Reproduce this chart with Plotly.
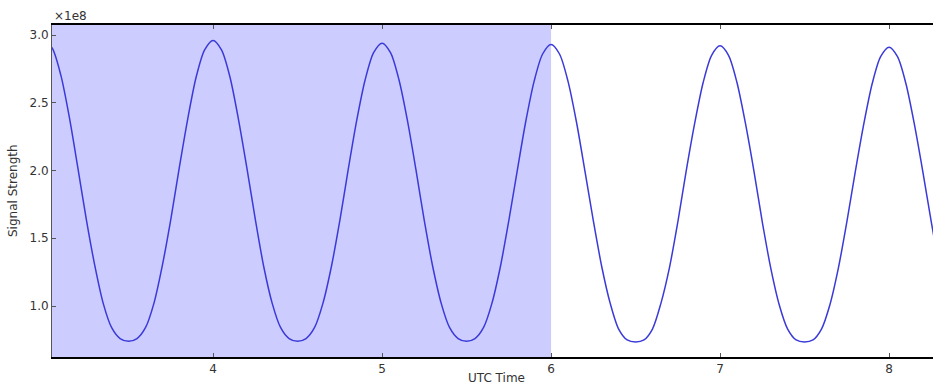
import plotly.graph_objects as go

# UTC time (hours) and signal strength (units of 1e8)
utc_time = [
    3.00, 3.05, 3.10, 3.15, 3.20, 3.25, 3.30, 3.35, 3.40, 3.45,
    3.50, 3.55, 3.60, 3.65, 3.70, 3.75, 3.80, 3.85, 3.90, 3.95,
    4.00, 4.05, 4.10, 4.15, 4.20, 4.25, 4.30, 4.35, 4.40, 4.45,
    4.50, 4.55, 4.60, 4.65, 4.70, 4.75, 4.80, 4.85, 4.90, 4.95,
    5.00, 5.05, 5.10, 5.15, 5.20, 5.25, 5.30, 5.35, 5.40, 5.45,
    5.50, 5.55, 5.60, 5.65, 5.70, 5.75, 5.80, 5.85, 5.90, 5.95,
    6.00, 6.05, 6.10, 6.15, 6.20, 6.25, 6.30, 6.35, 6.40, 6.45,
    6.50, 6.55, 6.60, 6.65, 6.70, 6.75, 6.80, 6.85, 6.90, 6.95,
    7.00, 7.05, 7.10, 7.15, 7.20, 7.25, 7.30, 7.35, 7.40, 7.45,
    7.50, 7.55, 7.60, 7.65, 7.70, 7.75, 7.80, 7.85, 7.90, 7.95,
    8.00, 8.05, 8.10, 8.15, 8.20, 8.25, 8.30, 8.35,
]
signal = [
    2.97, 2.90, 2.70, 2.39, 2.02, 1.64, 1.30, 1.02, 0.84, 0.76,
    0.74, 0.76, 0.84, 1.02, 1.30, 1.64, 2.02, 2.38, 2.69, 2.89,
    2.96, 2.89, 2.69, 2.38, 2.02, 1.64, 1.29, 1.02, 0.84, 0.76,
    0.74, 0.76, 0.84, 1.02, 1.29, 1.63, 2.01, 2.37, 2.67, 2.87,
    2.94, 2.87, 2.67, 2.37, 2.01, 1.63, 1.29, 1.02, 0.84, 0.76,
    0.74, 0.76, 0.84, 1.02, 1.29, 1.63, 2.00, 2.36, 2.66, 2.86,
    2.93, 2.86, 2.66, 2.36, 2.00, 1.63, 1.29, 1.02, 0.83, 0.75,
    0.735, 0.75, 0.83, 1.02, 1.28, 1.62, 2.00, 2.35, 2.65, 2.85,
    2.92, 2.85, 2.65, 2.35, 2.00, 1.62, 1.28, 1.01, 0.83, 0.75,
    0.735, 0.75, 0.83, 1.01, 1.28, 1.62, 1.99, 2.34, 2.64, 2.84,
    2.91, 2.84, 2.64, 2.34, 1.99, 1.62, 1.28, 1.01,
]
x_range = [3.047, 8.26]
y_range = [0.624, 3.074]
shade_end = 6

fig = go.Figure()

fig.add_vrect(x0=x_range[0], x1=shade_end, fillcolor='#ccccff', line_width=0, layer='below')

fig.add_trace(go.Scatter(x=utc_time, y=signal, mode='lines',
                         line=dict(color='#3a3ad8', width=1.5, shape='spline', smoothing=0.8),
                         showlegend=False))

font = dict(family='DejaVu Sans', size=12, color='#333333')

fig.update_layout(
    width=933, height=385,
    margin=dict(l=52, r=0, t=25, b=28),
    plot_bgcolor='white', paper_bgcolor='white',
    font=font,
    xaxis=dict(
        range=x_range, tickvals=[4, 5, 6, 7, 8], automargin=False,
        showgrid=False, zeroline=False,
        showline=True, linecolor='black', linewidth=2, mirror='allticks',
        ticks='inside', ticklen=4, tickcolor='#555555',
    ),
    yaxis=dict(
        range=y_range, tickvals=[1.0, 1.5, 2.0, 2.5, 3.0], tickformat='.1f',
        automargin=False, showgrid=False, zeroline=False,
        showline=True, linecolor='#555555', linewidth=1,
        ticks='inside', ticklen=4, tickcolor='#555555',
    ),
)

annotations = []
annotations.append(dict(xref='paper', yref='paper', x=0.0, y=1.0,
                        xanchor='left', yanchor='bottom', yshift=0,
                        text='×1e8', font=font, showarrow=False))
annotations.append(dict(xref='paper', yref='paper', x=0.505, y=0.0,
                        xanchor='center', yanchor='top', yshift=-12,
                        text='UTC Time', font=font, showarrow=False))
annotations.append(dict(xref='paper', yref='paper', x=0.0, y=0.5,
                        xanchor='right', yanchor='middle', xshift=-30,
                        text='Signal Strength', textangle=-90, font=font,
                        showarrow=False))
fig.update_layout(annotations=annotations)

# drop the default page margin so the 933x385 figure fills the window
fig.write_html("out.html", config={'displayModeBar': False},
               post_script="document.body.style.margin='0';")
